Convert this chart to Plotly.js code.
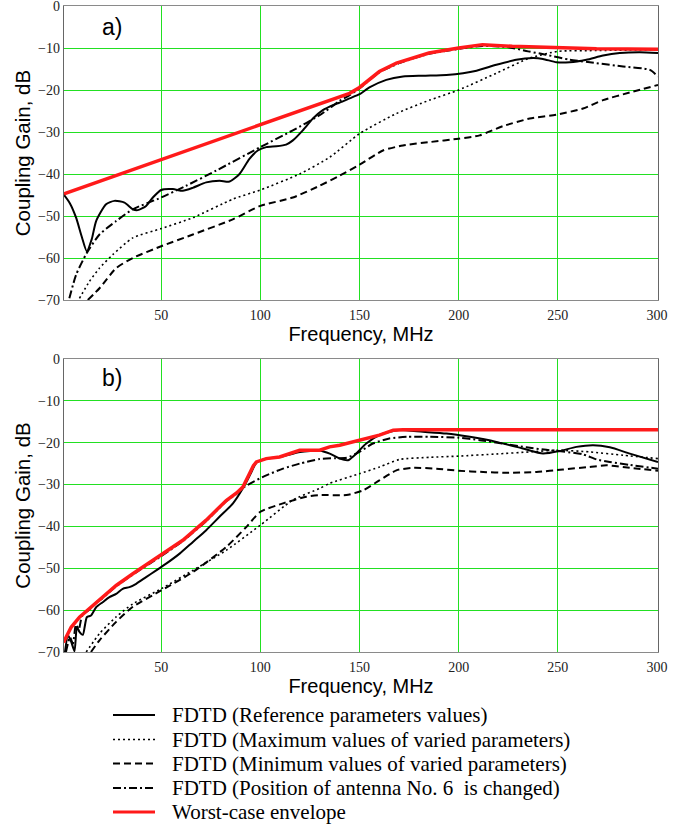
<!DOCTYPE html>
<html>
<head>
<meta charset="utf-8">
<script src="https://cdn.plot.ly/plotly-3.0.1.min.js"></script>
<style>html,body{margin:0;padding:0;background:#fff;}#chart{width:680px;height:825px;}</style>
</head>
<body>
<div id="chart"></div>
<script>
// ---------- Panel a) ----------
const aRefX = [0.7, 4, 7.1, 10, 12.5, 15, 17.2, 22.2, 26.4, 31.5, 35.7, 38.2, 42.4, 45.8, 50, 55.9, 60.9, 65.9, 72.7, 79.4, 84.5, 89.5, 94.5, 98.7, 103, 108, 113, 116.4, 121.4, 126.5, 131.5, 136.6, 140, 145, 150, 155, 163.5, 171.9, 182, 193.8, 202.2, 209, 219, 229, 237.5, 242.5, 249.3, 256, 264.4, 272.8, 281.2, 291.3, 300.5];
const aRefY = [-44.8, -47, -50.4, -55, -58.4, -55.5, -51.2, -47.2, -46.4, -46.8, -48.4, -48.6, -47.6, -45.6, -43.8, -43.6, -44, -43.3, -42, -41.6, -41.8, -40, -36.4, -34.4, -33.6, -33.4, -33, -32, -29.6, -26.8, -24.8, -23.6, -23, -22, -21, -19.4, -17.6, -16.8, -16.6, -16.4, -16, -15.4, -14, -12.8, -12.4, -12.6, -13.4, -13.4, -12.8, -11.8, -11.2, -11, -11.2];

const aMaxX = [8.8, 13.8, 18.9, 25.6, 35.7, 50, 66, 86.1, 100, 119.8, 135, 150, 168.6, 185.4, 200, 219, 235.8, 250, 269.5, 300.5];
const aMaxY = [-69.6, -65.6, -62.4, -59.2, -55.2, -53, -50.4, -46, -43.8, -40, -36, -30.4, -25.6, -22.4, -20, -16, -12.4, -10.8, -10.6, -10.4];

const aMinX = [13, 18.9, 27.3, 35.7, 50, 66, 86.1, 100, 116.4, 129.9, 140, 150, 161.8, 171.9, 185.4, 200, 210.6, 222.3, 235.8, 250, 262.7, 272.8, 286.3, 300.5];
const aMinY = [-70, -67.2, -62.4, -60, -57.2, -54.4, -50.8, -47.6, -45.6, -42.8, -40.4, -37.8, -34.4, -33.2, -32.4, -31.6, -30.8, -28.6, -26.8, -25.8, -24.4, -22.4, -20.6, -18.8];

const aPosX = [3.7, 7.1, 12.5, 18.9, 27.3, 35.7, 50, 62.6, 77.7, 100, 116.4, 129.9, 140, 145, 150, 160, 170, 185, 200, 212, 225, 235, 244, 256, 269.5, 282.9, 296.4, 300.5];
const aPosY = [-69.6, -64, -58.8, -54.4, -51.2, -48.4, -45.6, -42.8, -39.2, -33.6, -29.6, -26, -22.6, -21.2, -19.6, -15.8, -13.6, -11.4, -10.2, -9.5, -9.8, -10.8, -11.6, -12.8, -13.6, -14.4, -15.2, -16.8];

const aEnvX = [1, 140, 145, 150, 155, 160, 168.6, 177, 185, 200, 212, 227, 252.6, 269.5, 300.5];
const aEnvY = [-44.7, -21.6, -20.8, -19.4, -17.4, -15.6, -13.6, -12.4, -11.2, -10, -9.2, -9.6, -10, -10.2, -10.3];

// ---------- Panel b) ----------
const bRefX = [1.5, 3, 4.6, 6.3, 7.5, 8.8, 10.5, 12.5, 14.6, 17.2, 20.5, 23.9, 27.3, 30.6, 34, 37.4, 42.4, 47.5, 52.5, 59.3, 66, 72.7, 79.4, 86.2, 91.2, 95, 98, 103, 110, 120, 130, 135, 140, 144.2, 147.5, 153.4, 160, 169, 182, 193.8, 205.6, 219, 232.4, 242.5, 251, 259.4, 267.8, 276.2, 286.3, 300.5];
const bRefY = [-70, -66, -67.5, -69.8, -64, -65.2, -65.9, -61.7, -61.3, -59.3, -58.1, -56.9, -56.1, -54.9, -54.5, -53.7, -52.1, -50.5, -48.9, -46.5, -43.7, -40.9, -37.7, -34.5, -30.9, -27.5, -24.8, -23.8, -23.4, -22.2, -21.9, -22.6, -23.8, -24.2, -23, -20.2, -18.2, -17, -17.4, -17.8, -18.6, -19.8, -21.4, -22.6, -22, -21, -20.6, -21.1, -22.6, -24.6];

const bMaxX = [12.2, 18.9, 27.3, 35.7, 50, 66, 82.8, 100, 116.4, 130, 135, 150, 160.1, 170.2, 185.4, 200, 219, 235.8, 250, 266, 282.9, 300.5];
const bMaxY = [-70, -65.6, -61.6, -58.5, -54.9, -50.5, -45.7, -39.7, -33.7, -30.9, -29.7, -27.4, -25.8, -24, -23.5, -23.2, -22.7, -22.2, -21.8, -22.2, -23, -23.8];

const bMinX = [14.6, 18.9, 27.3, 35.7, 50, 66, 82.8, 93, 100, 111.4, 123.2, 130, 143.4, 151.7, 160, 168.6, 177, 188.8, 200, 212.3, 224, 239.2, 252.6, 266, 274.5, 286.3, 300.5];
const bMinY = [-70, -67.2, -62.8, -59.2, -55.3, -50.9, -44.9, -40.1, -36.5, -34.5, -32.9, -32.5, -32.5, -31.4, -29, -26.6, -26, -26.2, -26.7, -27, -27.2, -27, -26.4, -25.8, -25.4, -26, -26.7];

const bPosX = [2, 4, 5.5, 7, 8.5, 10, 12, 14, 17, 20, 27.3, 35.7, 50, 60.9, 72.7, 82.8, 88, 91.2, 96.2, 103, 111.4, 119.8, 129.9, 138, 143.4, 150, 156.7, 165, 174, 185.4, 200, 210.6, 222.3, 234.1, 244.2, 252.6, 262.7, 269.5, 276.2, 286.3, 300.5];
const bPosY = [-70, -66.5, -68, -63.5, -64.5, -61.5, -60.5, -59.8, -58.2, -57.3, -54.3, -51.5, -47.1, -43.5, -38.7, -34, -32.2, -30.8, -29.4, -27.8, -26.2, -25, -23.9, -23.7, -23.6, -22.2, -20.2, -19, -18.6, -18.6, -18.8, -19.4, -20.2, -21.1, -21.7, -22.1, -22.8, -24, -24.6, -25.3, -26.2];

const bEnvX = [0.7, 4.6, 8.8, 13.8, 18.9, 27.3, 35.7, 50, 60.9, 72.7, 82.8, 88, 91.2, 94.5, 96.5, 98, 103, 109.7, 119.8, 129.9, 134.9, 140, 150, 160, 167, 171.9, 300.5];
const bEnvY = [-67.7, -64.1, -61.7, -59.7, -57.7, -54.1, -51.3, -46.9, -43.3, -38.5, -33.8, -32, -30.6, -27.4, -25.5, -24.6, -23.8, -23.4, -21.8, -21.8, -21, -20.6, -19.4, -18.2, -17, -16.9, -16.9];

const seriesNames = [
  "FDTD (Reference parameters values)",
  "FDTD (Maximum values of varied parameters)",
  "FDTD (Minimum values of varied parameters)",
  "FDTD (Position of antenna No. 6  is changed)",
  "Worst-case envelope"
];
const xTicks = [50, 100, 150, 200, 250, 300];
const yTicks = [0, -10, -20, -30, -40, -50, -60, -70];

const styles = [
  {color: '#000', width: 2, dash: 'solid'},
  {color: '#000', width: 1.6, dash: '2px,3px'},
  {color: '#000', width: 2, dash: '7px,4px'},
  {color: '#000', width: 2, dash: '8px,3px,2px,3px'},
  {color: '#ff1a1a', width: 3.5, dash: 'solid'}
];

// figure geometry (px)
const W = 680, H = 825, mL = 64, mR = 22, mT = 6, mB = 173;
const plotW = W - mL - mR, plotH = H - mT - mB;
const px2x = px => (px - mL) / plotW;
const py2y = py => (H - mB - py) / plotH;

function mk(x, y, i, panel) {
  return {
    x: x, y: y, type: 'scatter', mode: 'lines',
    name: seriesNames[i], legendgroup: 'g' + i,
    showlegend: false,
    xaxis: panel === 'a' ? 'x' : 'x2',
    yaxis: panel === 'a' ? 'y' : 'y2',
    line: Object.assign({}, styles[i], {shape: i === 4 ? 'linear' : 'spline', smoothing: 0.6}),
    hoverinfo: 'skip'
  };
}

const data = [
  mk(aRefX, aRefY, 0, 'a'), mk(aMaxX, aMaxY, 1, 'a'), mk(aMinX, aMinY, 2, 'a'), mk(aPosX, aPosY, 3, 'a'), mk(aEnvX, aEnvY, 4, 'a'),
  mk(bRefX, bRefY, 0, 'b'), mk(bMaxX, bMaxY, 1, 'b'), mk(bMinX, bMinY, 2, 'b'), mk(bPosX, bPosY, 3, 'b'), mk(bEnvX, bEnvY, 4, 'b')
];

const gridCol = '#22e022';
const tickFont = {family: 'Liberation Serif', size: 14, color: '#222'};

function xax(anchor) {
  return {
    anchor: anchor, domain: [0, 1], range: [1, 300.5], tickvals: xTicks, ticktext: xTicks.map(String),
    showgrid: true, gridcolor: gridCol, gridwidth: 1, zeroline: false,
    showline: true, mirror: true, linecolor: '#8a8a8a', linewidth: 1.2,
    ticks: '', tickfont: tickFont, ticklabelstandoff: 2, automargin: false,
    title: {text: 'Frequency, MHz', font: {family: 'Liberation Sans', size: 20, color: '#000'}, standoff: 4}
  };
}
function yax(anchor, domain) {
  return {
    anchor: anchor, domain: domain, range: [-70, 0], tickvals: yTicks,
    showgrid: true, gridcolor: gridCol, gridwidth: 1, zeroline: false,
    showline: true, mirror: true, linecolor: '#666', linewidth: 1.2,
    ticks: '', tickfont: tickFont, ticklabeloverflow: 'allow', automargin: false,
    title: {text: 'Coupling Gain, dB', font: {family: 'Liberation Sans', size: 20.5, color: '#000'}, standoff: 2}
  };
}

// hand-placed legend (sample lines + labels) below the panels
const legRowsPy = [715, 739.5, 763.5, 788, 812];
const shapes = [];
const annotations = [
  {text: 'a)', xref: 'paper', yref: 'paper', x: px2x(112), y: py2y(27), xanchor: 'center', yanchor: 'middle', showarrow: false,
   font: {family: 'Liberation Sans', size: 23, color: '#000'}},
  {text: 'b)', xref: 'paper', yref: 'paper', x: px2x(112), y: py2y(378), xanchor: 'center', yanchor: 'middle', showarrow: false,
   font: {family: 'Liberation Sans', size: 23, color: '#000'}}
];
seriesNames.forEach((nm, i) => {
  const y = py2y(legRowsPy[i]);
  shapes.push({type: 'line', xref: 'paper', yref: 'paper', x0: px2x(113), x1: px2x(155), y0: y, y1: y,
               line: {color: styles[i].color, width: i === 4 ? 3 : styles[i].width, dash: styles[i].dash}});
  annotations.push({text: nm.replace(/  /g, '&nbsp; '), xref: 'paper', yref: 'paper', x: px2x(170), y: y,
                    xanchor: 'left', yanchor: 'middle', showarrow: false,
                    font: {family: 'Liberation Serif', size: 21, color: '#000'}});
});

const layout = {
  width: W, height: H,
  margin: {l: mL, r: mR, t: mT, b: mB},
  paper_bgcolor: '#ffffff', plot_bgcolor: '#ffffff',
  showlegend: false,
  xaxis: xax('y'),
  yaxis: yax('x', [0.5449, 1]),
  xaxis2: xax('y2'),
  yaxis2: yax('x2', [0, 0.4536]),
  shapes: shapes,
  annotations: annotations
};

Plotly.newPlot('chart', data, layout, {displayModeBar: false, staticPlot: true});
</script>
</body>
</html>
